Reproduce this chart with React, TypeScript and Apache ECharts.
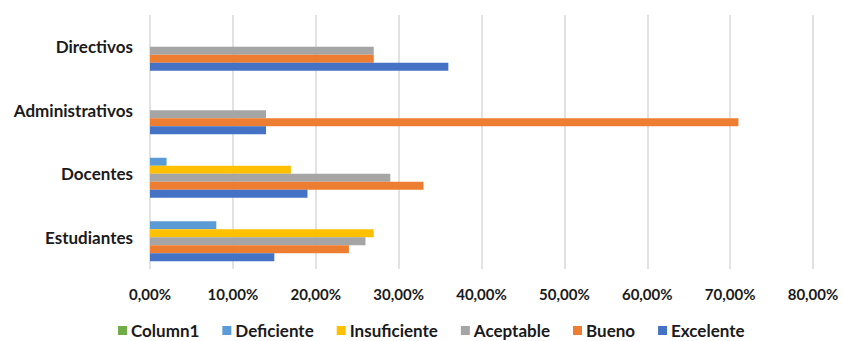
import React, { useEffect, useRef } from "react";
import * as echarts from "echarts";

const categories = ["Estudiantes", "Docentes", "Administrativos", "Directivos"];
const seriesNames = ["Column1", "Deficiente", "Insuficiente", "Aceptable", "Bueno", "Excelente"];
const column1 = [0, 0, 0, 0];
const deficiente = [8, 2, 0, 0];
const insuficiente = [27, 17, 0, 0];
const aceptable = [26, 29, 14, 27];
const bueno = [24, 33, 71, 27];
const excelente = [15, 19, 14, 36];
const colors = ["#70ad47", "#5b9bd5", "#ffc000", "#a5a5a5", "#ed7d31", "#4472c4"];

export default function App() {
  const ref = useRef<HTMLDivElement>(null);
  useEffect(() => {
    const chart = echarts.init(ref.current!, null, { renderer: "svg" });
    const values = [column1, deficiente, insuficiente, aceptable, bueno, excelente];
    const font = "Lato, 'Open Sans', sans-serif";
    chart.setOption({
      animation: false,
      grid: { left: 150, right: 30, top: 15, bottom: 72, containLabel: false },
      legend: {
        data: seriesNames,
        top: 322,
        left: 118,
        padding: 0,
        itemWidth: 9,
        itemHeight: 9,
        itemGap: 23,
        icon: "rect",
        textStyle: { fontFamily: font, fontWeight: "bold", fontSize: 17, lineHeight: 17, color: "#1a1a1a", padding: [0, 0, 0, -1] },
      },
      xAxis: {
        type: "value",
        min: 0,
        max: 80,
        interval: 10,
        axisLine: { show: false },
        axisTick: { show: false },
        splitLine: { lineStyle: { color: "#d9d9d9", width: 1.5 } },
        axisLabel: {
          formatter: (v: number) => v.toFixed(2).replace(".", ",") + "%",
          fontFamily: font,
          fontWeight: "bold",
          fontSize: 15,
          color: "#1a1a1a",
          margin: 17,
        },
      },
      yAxis: {
        type: "category",
        data: categories,
        axisLine: { show: false },
        axisTick: { show: false },
        axisLabel: {
          fontFamily: font,
          fontWeight: "bold",
          fontSize: 17,
          color: "#1a1a1a",
          margin: 17,
          verticalAlign: "middle",
        },
      },
      series: seriesNames.map((name, i) => ({
        name,
        type: "bar",
        data: values[i],
        itemStyle: { color: colors[i] },
        barWidth: 8,
        barGap: "0%",
        barCategoryGap: "24%",
      })),
    });
    return () => chart.dispose();
  }, []);
  return <div ref={ref} style={{ position: "absolute", left: 0, top: 0, width: 843, height: 341 }} />;
}
